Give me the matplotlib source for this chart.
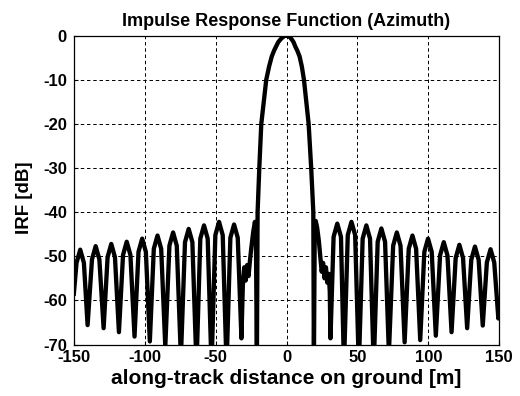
import matplotlib
matplotlib.use('Agg')

import matplotlib.pyplot as plt
import numpy as np

matplotlib.rcParams['font.family'] = 'sans-serif'
matplotlib.rcParams['font.sans-serif'] = ['Liberation Sans', 'DejaVu Sans']
matplotlib.rcParams['font.weight'] = 'bold'
matplotlib.rcParams['axes.unicode_minus'] = False
matplotlib.rcParams['lines.scale_dashes'] = False

# sidelobes left of the main lobe, from the left edge to the first null
left_x = [-150.0,
          -148.1, -145.5, -142.9, -140.3,
          -137.2, -134.6, -132.0, -129.0,
          -126.2, -123.6, -121.0, -118.2,
          -115.3, -112.7, -110.1, -107.2,
          -104.4, -101.8, -99.2, -96.4,
          -93.6, -91.0, -88.4, -85.5,
          -82.6, -80.0, -77.4, -74.5,
          -71.6, -69.0, -66.4, -63.5,
          -60.8, -58.2, -55.6, -52.9,
          -50.2, -47.6, -45.0, -42.3,
          -39.6, -37.0, -34.4, -31.8,
          -30.8, -29.8, -28.8, -27.8, -26.8, -25.8, -24.8, -23.5, -22.3, -21.6]
left_db = [-58.5,
           -51.5, -48.5, -51.5, -65.6,
           -50.7, -47.7, -50.7, -66.3,
           -50.2, -47.2, -50.2, -67.2,
           -49.7, -46.7, -49.7, -68.2,
           -49.0, -46.0, -49.0, -69.3,
           -48.3, -45.3, -48.3, -70.5,
           -47.6, -44.6, -47.6, -73.0,
           -46.8, -43.8, -46.8, -75.0,
           -46.0, -43.0, -46.0, -75.0,
           -45.2, -42.2, -45.2, -75.0,
           -45.8, -42.8, -45.8, -68.6,
           -56.5, -52.5, -55.5, -52.0, -54.5, -51.0, -48.0, -44.5, -42.2, -44.5]

# main lobe between the two first nulls
main_x = [-20.9, -20.4, -19.2, -17.8, -14.3, -12.3, -10.4, -8.8, -7.3, -5.9, -4.4,
          -3.0, -1.6, 0.0, 1.5, 2.7, 3.8, 5.0, 6.1, 7.6, 9.2, 10.8, 12.3,
          15.6, 17.4, 18.9, 19.3]
main_db = [-75.0, -40.0, -30.0, -20.0, -10.0, -7.0, -4.7, -3.4, -2.4, -1.5, -0.9,
           -0.45, -0.12, 0.0, -0.12, -0.45, -0.9, -1.5, -2.4, -3.4, -4.7, -7.0, -10.0,
           -20.0, -30.0, -40.0, -75.0]

# sidelobes right of the main lobe
right_x = [19.9, 20.6, 21.6, 22.8, 23.8, 24.8, 25.8, 26.8, 27.8, 28.8, 29.8, 30.5, 31.0,
           33.2, 35.8, 38.4, 40.5,
           43.2, 45.8, 48.4, 51.0,
           53.7, 56.3, 58.9, 61.5,
           64.3, 66.9, 69.5, 72.2,
           75.2, 77.8, 80.4, 83.3,
           86.2, 88.8, 91.4, 94.3,
           97.2, 99.8, 102.4, 105.3,
           108.3, 110.9, 113.5, 116.4,
           119.3, 121.9, 124.5, 127.4,
           130.3, 132.9, 135.5, 138.4,
           141.3, 143.9, 146.5, 149.4,
           150.0]
right_db = [-44.0, -42.0, -43.5, -46.5, -50.0, -53.5, -51.5, -55.0, -52.5, -56.0, -54.0, -58.0, -68.6,
            -45.6, -42.6, -45.6, -75.0,
            -45.2, -42.2, -45.2, -75.0,
            -46.0, -43.0, -46.0, -75.0,
            -46.7, -43.7, -46.7, -72.0,
            -47.6, -44.6, -47.6, -69.5,
            -48.3, -45.3, -48.3, -69.0,
            -49.0, -46.0, -49.0, -68.0,
            -49.8, -46.8, -49.8, -67.2,
            -50.4, -47.4, -50.4, -66.3,
            -50.8, -47.8, -50.8, -65.7,
            -51.4, -48.4, -51.4, -64.1,
            -61.0]

x_ticks = [-150, -100, -50, 0, 50, 100, 150]
y_ticks = [-70, -60, -50, -40, -30, -20, -10, 0]

x = np.array(left_x + main_x + right_x)
irf = np.array(left_db + main_db + right_db)

fig = plt.figure(figsize=(5.2, 3.96), dpi=100)
ax = fig.add_axes([0.142, 0.130, 0.818, 0.780])

ax.plot(x, irf, color='black', linewidth=3.1, solid_joinstyle='round')

ax.set_xlim(-150, 150)
ax.set_ylim(-70, 0)
ax.set_xticks(x_ticks)
ax.set_yticks(y_ticks)
ax.tick_params(direction='in', length=3, width=0.8, labelsize=12, pad=4)
ax.tick_params(axis='y', pad=5)
for lab in ax.get_xticklabels() + ax.get_yticklabels():
    lab.set_fontweight('bold')

# matlab style dashed grid
ax.grid(True, color='black', linewidth=0.7, linestyle=(0, (2.5, 2.0)))

for sp in ax.spines.values():
    sp.set_linewidth(0.9)
    sp.set_color('black')

ax.set_title('Impulse Response Function (Azimuth)', fontsize=13, fontweight='bold', pad=7)
ax.set_xlabel('along-track distance on ground [m]', fontsize=15, fontweight='bold', labelpad=3)
ax.set_ylabel('IRF [dB]', fontsize=13.5, fontweight='bold')
ax.yaxis.set_label_coords(-0.095, 0.475)

plt.savefig('out.png', dpi=100)
plt.close()
